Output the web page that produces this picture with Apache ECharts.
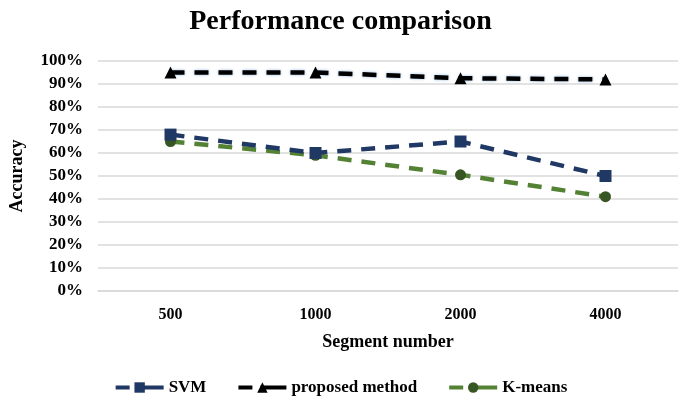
<!DOCTYPE html>
<html><head><meta charset="utf-8">
<script src="https://cdn.jsdelivr.net/npm/echarts@6/dist/echarts.min.js"></script>
<style>html,body{margin:0;padding:0;background:#fff}#c{width:681px;height:403px}</style>
</head><body><div id="c"></div>
<script>
const categories = ['500', '1000', '2000', '4000'];
const svm = [0.68, 0.60, 0.65, 0.50];
const proposed = [0.95, 0.95, 0.925, 0.92];
const kmeans = [0.65, 0.59, 0.505, 0.41];
const yTicks = [0, 0.1, 0.2, 0.3, 0.4, 0.5, 0.6, 0.7, 0.8, 0.9, 1.0];

const font = 'Liberation Serif';
const chart = echarts.init(document.getElementById('c'));
const lineW = 4.5;
chart.setOption({
  animation: false,
  title: {
    text: 'Performance comparison', left: 'center', top: 3,
    textStyle: { fontFamily: font, fontWeight: 'bold', fontSize: 28, color: '#000' }
  },
  legend: {
    bottom: 2, left: 'center', itemWidth: 48, itemHeight: 13, itemGap: 30,
    lineStyle: { type: [14, 8, 26, 8], width: 4 },
    textStyle: { fontFamily: font, fontWeight: 'bold', fontSize: 17, color: '#000' },
    data: ['SVM', 'proposed method', 'K-means']
  },
  grid: { left: 96, right: 3, top: 61, bottom: 112 },
  xAxis: {
    type: 'category', data: categories, boundaryGap: true,
    name: 'Segment number', nameLocation: 'middle', nameGap: 42,
    nameTextStyle: { fontFamily: font, fontWeight: 'bold', fontSize: 18, color: '#000' },
    axisLine: { show: true, lineStyle: { color: '#d9d9d9', width: 1.5 } },
    axisTick: { show: false },
    axisLabel: { fontFamily: font, fontWeight: 'bold', fontSize: 16, color: '#000', margin: 16 }
  },
  yAxis: {
    type: 'value', min: 0, max: 1, interval: 0.1,
    name: 'Accuracy', nameLocation: 'middle', nameGap: 72, nameRotate: 90,
    nameTextStyle: { fontFamily: font, fontWeight: 'bold', fontSize: 18, color: '#000' },
    axisLine: { show: false }, axisTick: { show: false },
    splitLine: { lineStyle: { color: '#d9d9d9', width: 1.5 } },
    axisLabel: {
      fontFamily: font, fontWeight: 'bold', fontSize: 17, color: '#000', margin: 15,
      formatter: v => {
        const t = yTicks.find(x => Math.abs(x - v) < 1e-6);
        return t === undefined ? '' : Math.round(t * 100) + '%';
      }
    }
  },
  series: [
    {
      name: 'SVM', type: 'line', data: svm, symbol: 'rect', symbolSize: 12,
      lineStyle: { color: '#203864', width: lineW, type: [14, 10] },
      itemStyle: { color: '#203864' }, z: 3
    },
    {
      name: 'proposed method', type: 'line', data: proposed, symbol: 'triangle', symbolSize: 12,
      lineStyle: { color: '#000', width: lineW, type: [14, 10], shadowColor: 'rgba(120,170,220,0.8)', shadowBlur: 3 },
      itemStyle: { color: '#000' }, z: 4
    },
    {
      name: 'K-means', type: 'line', data: kmeans, symbol: 'circle', symbolSize: 11,
      lineStyle: { color: '#548235', width: lineW, type: [14, 10] },
      itemStyle: { color: '#375623' }, z: 2
    }
  ]
});
</script></body></html>
